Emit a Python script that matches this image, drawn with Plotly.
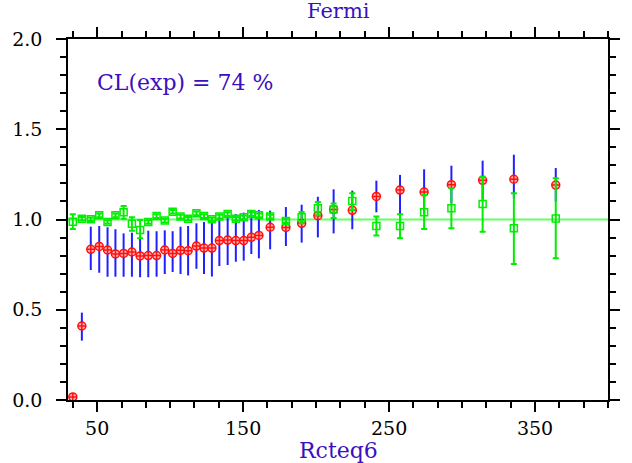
import plotly.graph_objects as go

# ---- data ----
mass = [33.3, 39.5, 45.6, 51.4, 57.1, 62.5, 68.1, 73.8, 79.4, 85.0, 90.7, 96.3,
        101.7, 107.1, 112.3, 118.0, 123.2, 128.6, 133.7, 139.4, 145.0, 150.4,
        155.6, 160.8, 168.5, 179.3, 190.1, 201.2, 212.0, 224.8, 241.3, 257.5,
        274.0, 292.7, 314.1, 335.5, 364.2]

obs_ratio = [0.017, 0.41, 0.835, 0.851, 0.831, 0.809, 0.812, 0.82, 0.798, 0.80, 0.80, 0.831,
             0.812, 0.829, 0.827, 0.853, 0.842, 0.842, 0.883, 0.886, 0.883, 0.883,
             0.901, 0.912, 0.957, 0.956, 0.979, 1.021, 1.056, 1.051, 1.128, 1.163,
             1.152, 1.193, 1.217, 1.223, 1.191]
obs_hi = [0.017, 0.484, 0.96, 0.964, 0.957, 0.946, 0.923, 0.927, 0.909, 0.938, 0.935, 0.94,
          0.935, 0.96, 0.964, 0.979, 0.986, 1.0, 1.012, 1.023, 1.03, 1.038,
          1.049, 1.053, 1.049, 1.069, 1.082, 1.126, 1.167, 1.16, 1.215, 1.247,
          1.278, 1.298, 1.326, 1.359, 1.285]
obs_lo = [0.017, 0.329, 0.72, 0.705, 0.683, 0.683, 0.683, 0.683, 0.68, 0.68, 0.683, 0.698,
          0.709, 0.698, 0.69, 0.727, 0.698, 0.684, 0.742, 0.748, 0.766, 0.772,
          0.809, 0.785, 0.835, 0.853, 0.872, 0.901, 0.923, 0.946, 1.04, 1.0,
          1.03, 1.09, 1.11, 1.117, 1.10]

exp_ratio = [0.988, 1.004, 1.001, 1.023, 0.986, 1.023, 1.04, 0.977, 0.942, 0.986, 1.019, 0.994,
             1.043, 1.016, 1.004, 1.034, 1.019, 1.001, 1.016, 1.03, 1.004, 1.012,
             1.03, 1.023, 1.016, 0.992, 1.012, 1.062, 1.056, 1.102, 0.964, 0.964,
             1.04, 1.062, 1.086, 0.951, 1.006]
exp_hi = [1.029, 1.014, 1.011, 1.033, 0.996, 1.033, 1.075, 1.012, 0.997, 0.996, 1.029, 1.004,
          1.053, 1.026, 1.014, 1.044, 1.029, 1.011, 1.026, 1.04, 1.014, 1.022,
          1.04, 1.033, 1.026, 1.002, 1.042, 1.097, 1.089, 1.145, 1.016, 1.029,
          1.136, 1.173, 1.237, 1.145, 1.228]
exp_lo = [0.947, 0.994, 0.991, 1.013, 0.976, 1.013, 1.004, 0.938, 0.896, 0.976, 1.009, 0.984,
          1.033, 1.006, 0.994, 1.024, 1.009, 0.991, 1.006, 1.02, 0.994, 1.002,
          1.02, 1.013, 1.006, 0.982, 0.979, 1.023, 1.008, 1.053, 0.912, 0.896,
          0.947, 0.951, 0.932, 0.753, 0.785]

x_ticks = [50, 150, 250, 350]
y_ticks = [0.0, 0.5, 1.0, 1.5, 2.0]
ref_x = [30, 400]
ref_y = [1.0, 1.0]

title_text = "Fermi"
xlabel = "Rcteq6"
cl_text = "CL(exp) = 74 %"

BLUE_TXT = "#3a10c0"
SERIF = "DejaVu Serif"

fig = go.Figure()

fig.add_trace(go.Scatter(x=ref_x, y=ref_y, mode="lines",
                         line=dict(color="#66ff66", width=2), hoverinfo="skip"))

fig.add_trace(go.Scatter(
    x=mass, y=obs_ratio, mode="markers",
    marker=dict(symbol="circle-cross", size=8, color="#ffb0b0",
                line=dict(color="#ff1010", width=1.5)),
    error_y=dict(type="data", symmetric=False,
                 array=[h - v for h, v in zip(obs_hi, obs_ratio)],
                 arrayminus=[v - l for v, l in zip(obs_ratio, obs_lo)],
                 color="#2020ff", thickness=2, width=0),
))

fig.add_trace(go.Scatter(
    x=mass, y=exp_ratio, mode="markers",
    marker=dict(symbol="square-open", size=7, color="#00ee00",
                line=dict(color="#00ee00", width=1.5)),
    error_y=dict(type="data", symmetric=False,
                 array=[h - v for h, v in zip(exp_hi, exp_ratio)],
                 arrayminus=[v - l for v, l in zip(exp_ratio, exp_lo)],
                 color="#00ee00", thickness=2, width=3),
))

axis_common = dict(
    showgrid=False, zeroline=False, showline=True, linecolor="black", linewidth=1.5,
    mirror="ticks", ticks="outside", tickcolor="black", tickwidth=1.5, ticklen=10,
    tickfont=dict(family=SERIF, size=19, color="black"),
)

fig.update_xaxes(range=[30, 400], tickmode="array", tickvals=x_ticks,
                 ticktext=[str(v) for v in x_ticks],
                 minor=dict(tick0=50, dtick=100 / 6, ticks="outside", ticklen=6,
                            tickcolor="black", tickwidth=1.5),
                 ticklabelstandoff=0, **axis_common)
fig.update_yaxes(range=[0, 2], tickmode="array", tickvals=y_ticks,
                 ticktext=[f"{v:.1f}" for v in y_ticks],
                 minor=dict(tick0=0, dtick=0.1, ticks="outside", ticklen=6,
                            tickcolor="black", tickwidth=1.5),
                 ticklabelstandoff=10, **axis_common)

fig.update_layout(
    width=632, height=463,
    margin=dict(l=66, r=19, t=39, b=63),
    paper_bgcolor="white", plot_bgcolor="white",
    showlegend=False,
    annotations=[
        dict(text=title_text, xref="paper", yref="paper", x=0.5, y=1, yshift=28,
             showarrow=False, xanchor="center", yanchor="middle",
             font=dict(family=SERIF, size=21, color=BLUE_TXT)),
        dict(text=xlabel, xref="paper", yref="paper", x=0.5, y=0, yshift=-50,
             showarrow=False, xanchor="center", yanchor="middle",
             font=dict(family=SERIF, size=22, color=BLUE_TXT)),
        dict(text=cl_text, xref="paper", yref="paper", x=(93 - 66) / 547, y=(400 - 82) / 361,
             showarrow=False, xanchor="left", yanchor="middle",
             font=dict(family=SERIF, size=22, color=BLUE_TXT)),
    ],
)

fig.write_html("out.html")
